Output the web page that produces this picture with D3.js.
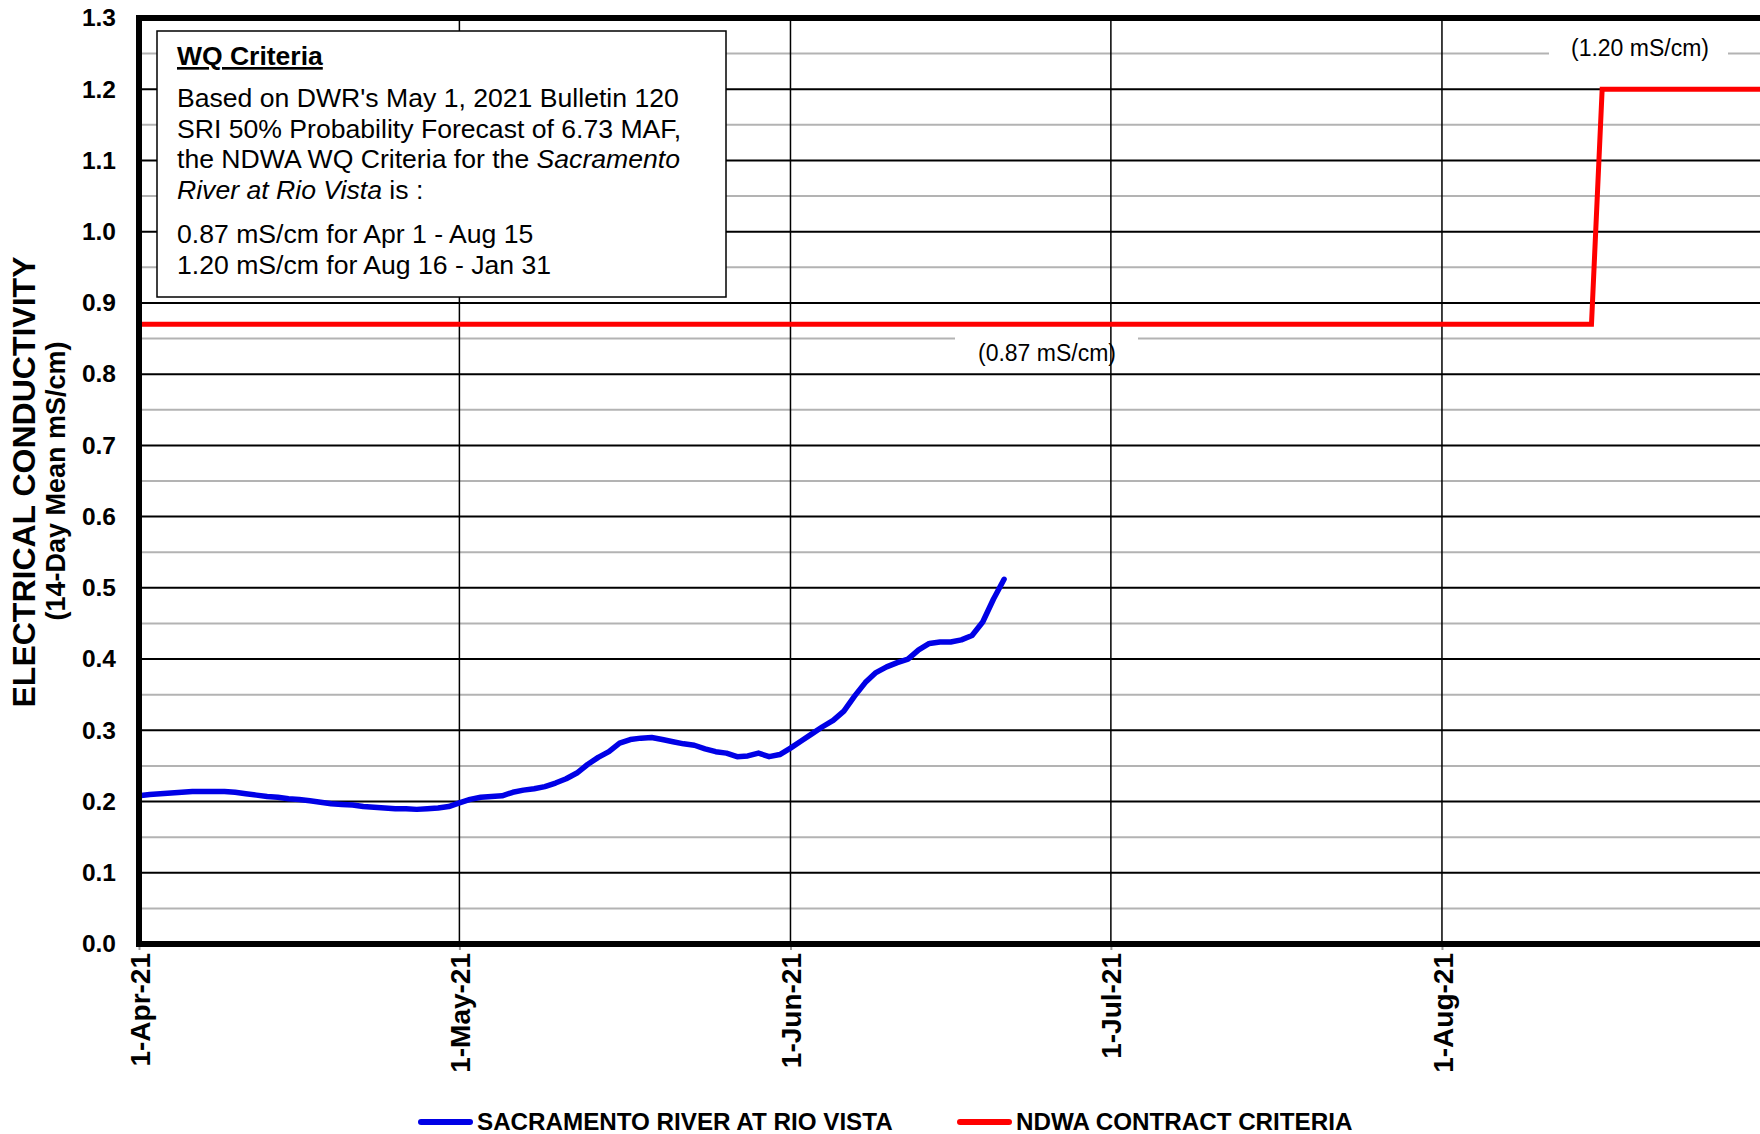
<!DOCTYPE html>
<html>
<head>
<meta charset="utf-8">
<script src="https://cdn.jsdelivr.net/npm/d3@7"></script>
<style>
  body { margin: 0; background: #fff; }
  svg { display: block; font-family: "Liberation Sans", Arial, sans-serif; }
</style>
</head>
<body>
<svg id="chart"></svg>
<script>
// 14-day mean EC, Sacramento River at Rio Vista, one value per day from 1-Apr-21
const ecStart = '2021-04-01';
const ecValues = [
  0.208, 0.210, 0.211, 0.212, 0.213, 0.214, 0.214, 0.214, 0.214, 0.213,
  0.211, 0.209, 0.207, 0.206, 0.204, 0.203, 0.201, 0.199, 0.197, 0.196,
  0.195, 0.193, 0.192, 0.191, 0.190, 0.190, 0.189, 0.190, 0.191, 0.193,
  0.198, 0.203, 0.206, 0.207, 0.208, 0.213, 0.216, 0.218, 0.221, 0.226,
  0.232, 0.240, 0.252, 0.262, 0.270, 0.282, 0.287, 0.289, 0.290, 0.287,
  0.284, 0.281, 0.279, 0.274, 0.270, 0.268, 0.263, 0.264, 0.268, 0.263,
  0.266, 0.275, 0.285, 0.295, 0.305, 0.314, 0.327, 0.348, 0.367, 0.381,
  0.389, 0.395, 0.400, 0.413, 0.422, 0.424, 0.424, 0.427, 0.433, 0.452,
  0.484, 0.512
];

// NDWA contract criteria
const criteriaDates = ['2021-04-01', '2021-08-15', '2021-08-16', '2021-09-01'];
const criteriaValues = [0.87, 0.87, 1.20, 1.20];

const monthTicks = ['2021-04-01', '2021-05-01', '2021-06-01', '2021-07-01', '2021-08-01'];
const yTicks = [0.0, 0.1, 0.2, 0.3, 0.4, 0.5, 0.6, 0.7, 0.8, 0.9, 1.0, 1.1, 1.2, 1.3];
const yMinorTicks = [0.05, 0.15, 0.25, 0.35, 0.45, 0.55, 0.65, 0.75, 0.85, 0.95, 1.05, 1.15, 1.25];

const legendLabels = ['SACRAMENTO RIVER AT RIO VISTA', 'NDWA CONTRACT CRITERIA'];

const width = 1760;
const height = 1134;
const plotLeft = 139;
const plotTop = 18;
const plotBottom = 944;
const pxPerDay = 10.68;

const parse = d3.timeParse('%Y-%m-%d');
const start = parse(ecStart);
const end = parse('2021-09-01');

const ecData = ecValues.map((v, i) => ({ date: d3.timeDay.offset(start, i), value: v }));
const criteriaData = criteriaDates.map((d, i) => ({ date: parse(d), value: criteriaValues[i] }));

const svg = d3.select('#chart')
  .attr('width', width)
  .attr('height', height);

const xScale = d3.scaleTime()
  .domain([start, end])
  .range([plotLeft, plotLeft + d3.timeDay.count(start, end) * pxPerDay]);

const yScale = d3.scaleLinear()
  .domain([0, 1.3])
  .range([plotBottom, plotTop]);

const plot = svg.append('g');

// minor gridlines
plot.selectAll('.minor')
  .data(yMinorTicks)
  .enter()
  .append('line')
  .attr('x1', plotLeft).attr('x2', width)
  .attr('y1', (d) => yScale(d)).attr('y2', (d) => yScale(d))
  .attr('stroke', '#b3b3b3')
  .attr('stroke-width', 2);

// white patches behind the value labels
const valueLabels = [
  { text: '(0.87 mS/cm)', x: 1047, y: 361, box: [955, 336, 183, 34] },
  { text: '(1.20 mS/cm)', x: 1640, y: 56, box: [1549, 30, 179, 46] }
];
plot.selectAll('.lblbox')
  .data(valueLabels)
  .enter()
  .append('rect')
  .attr('x', (d) => d.box[0]).attr('y', (d) => d.box[1])
  .attr('width', (d) => d.box[2]).attr('height', (d) => d.box[3])
  .attr('fill', '#fff');

// month gridlines
plot.selectAll('.vgrid')
  .data(monthTicks.slice(1))
  .enter()
  .append('line')
  .attr('x1', (d) => xScale(parse(d))).attr('x2', (d) => xScale(parse(d)))
  .attr('y1', plotTop).attr('y2', plotBottom)
  .attr('stroke', '#000')
  .attr('stroke-width', 1.5);

// major gridlines
plot.selectAll('.major')
  .data(yTicks.slice(1, -1))
  .enter()
  .append('line')
  .attr('x1', plotLeft).attr('x2', width)
  .attr('y1', (d) => yScale(d)).attr('y2', (d) => yScale(d))
  .attr('stroke', '#000')
  .attr('stroke-width', 2);

plot.selectAll('.lbl')
  .data(valueLabels)
  .enter()
  .append('text')
  .attr('x', (d) => d.x).attr('y', (d) => d.y)
  .attr('text-anchor', 'middle')
  .style('font-size', '23px')
  .text((d) => d.text);

// axes
const yAxis = d3.axisLeft(yScale)
  .tickValues(yTicks)
  .tickSize(0)
  .tickPadding(23)
  .tickFormat(d3.format('.1f'));

svg.append('g')
  .attr('transform', `translate(${plotLeft},0)`)
  .call(yAxis)
  .call((g) => g.select('.domain').remove())
  .selectAll('text')
  .style('font-family', '"Liberation Sans", Arial, sans-serif')
  .style('font-size', '24.5px')
  .style('font-weight', 'bold')
  .attr('fill', '#000');

const xAxis = d3.axisBottom(xScale)
  .tickValues(monthTicks.map(parse))
  .tickSize(6)
  .tickFormat(d3.timeFormat('%-d-%b-%y'));

const xg = svg.append('g')
  .attr('transform', `translate(0,${plotBottom})`)
  .call(xAxis);
xg.select('.domain').remove();
xg.selectAll('.tick line').attr('stroke', '#999').attr('stroke-width', 2);
xg.selectAll('text')
  .attr('transform', 'rotate(-90)')
  .attr('x', -9)
  .attr('y', 0)
  .attr('dy', '0.36em')
  .style('text-anchor', 'end')
  .style('font-family', '"Liberation Sans", Arial, sans-serif')
  .style('font-size', '28px')
  .style('font-weight', 'bold')
  .attr('fill', '#000');

// series
const line = d3.line()
  .x((d) => xScale(d.date))
  .y((d) => yScale(d.value));

svg.append('path')
  .datum(criteriaData)
  .attr('d', line)
  .attr('fill', 'none')
  .attr('stroke', '#ff0000')
  .attr('stroke-width', 5)
  .attr('stroke-linejoin', 'miter');

svg.append('path')
  .datum(ecData)
  .attr('d', line)
  .attr('fill', 'none')
  .attr('stroke', '#0000e6')
  .attr('stroke-width', 5.5)
  .attr('stroke-linejoin', 'round')
  .attr('stroke-linecap', 'round');

// frame
svg.append('line')
  .attr('x1', plotLeft - 3).attr('x2', width)
  .attr('y1', plotTop).attr('y2', plotTop)
  .attr('stroke', '#000').attr('stroke-width', 6);
svg.append('line')
  .attr('x1', plotLeft - 3).attr('x2', width)
  .attr('y1', plotBottom).attr('y2', plotBottom)
  .attr('stroke', '#000').attr('stroke-width', 6);
svg.append('line')
  .attr('x1', plotLeft).attr('x2', plotLeft)
  .attr('y1', plotTop - 3).attr('y2', plotBottom + 3)
  .attr('stroke', '#000').attr('stroke-width', 6);

// WQ criteria note
const note = svg.append('g');
note.append('rect')
  .attr('x', 157).attr('y', 31)
  .attr('width', 569).attr('height', 266)
  .attr('fill', '#fff')
  .attr('stroke', '#000')
  .attr('stroke-width', 1.5);

note.append('text')
  .attr('x', 177).attr('y', 65)
  .style('font-size', '26.5px')
  .style('font-weight', 'bold')
  .style('text-decoration', 'underline')
  .text('WQ Criteria');

const noteLines = [
  [["Based on DWR's May 1, 2021 Bulletin 120", false]],
  [['SRI 50% Probability Forecast of 6.73 MAF,', false]],
  [['the NDWA WQ Criteria for the ', false], ['Sacramento', true]],
  [['River at Rio Vista', true], [' is :', false]],
  [['0.87 mS/cm for Apr 1 - Aug 15', false]],
  [['1.20 mS/cm for Aug 16 - Jan 31', false]]
];
const noteBaselines = [107, 137.5, 168, 199, 243, 273.5];

noteLines.forEach((parts, i) => {
  const t = note.append('text')
    .attr('x', 177).attr('y', noteBaselines[i])
    .style('font-size', '26.6px');
  parts.forEach(([s, it]) => {
    t.append('tspan')
      .style('font-style', it ? 'italic' : 'normal')
      .text(s);
  });
});

// y axis titles
svg.append('text')
  .attr('transform', 'translate(35,482) rotate(-90)')
  .attr('text-anchor', 'middle')
  .style('font-size', '32px')
  .style('font-weight', 'bold')
  .text('ELECTRICAL CONDUCTIVITY');

svg.append('text')
  .attr('transform', 'translate(65,481) rotate(-90)')
  .attr('text-anchor', 'middle')
  .style('font-size', '27px')
  .style('font-weight', 'bold')
  .text('(14-Day Mean mS/cm)');

// legend
const legendItems = [
  { label: legendLabels[0], color: '#0000e6', x: 418 },
  { label: legendLabels[1], color: '#ff0000', x: 957 }
];
const legend = svg.append('g');
legendItems.forEach((d) => {
  legend.append('line')
    .attr('x1', d.x + 3).attr('x2', d.x + 52)
    .attr('y1', 1122).attr('y2', 1122)
    .attr('stroke', d.color)
    .attr('stroke-width', 6)
    .attr('stroke-linecap', 'round');
  legend.append('text')
    .attr('x', d.x + 59).attr('y', 1130)
    .style('font-size', '24.2px')
    .style('font-weight', 'bold')
    .text(d.label);
});
</script>
</body>
</html>
